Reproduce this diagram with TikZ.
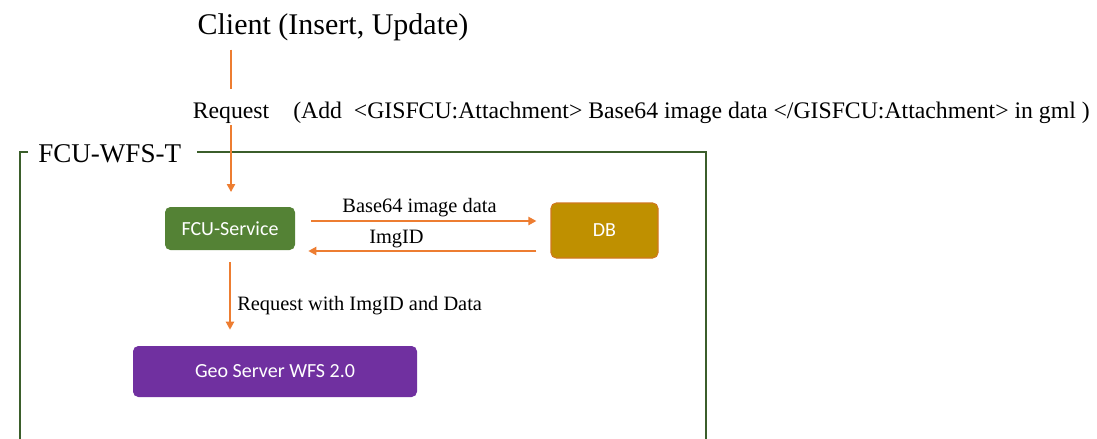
\documentclass[tikz,border=0pt]{standalone}
\usepackage{fontspec}
\setmainfont{Liberation Serif}
\newfontfamily\boxfont{Carlito}
\usepackage{xcolor}
\usetikzlibrary{arrows.meta,positioning}
\definecolor{flowc}{HTML}{ED7D31}
\definecolor{srvgreen}{HTML}{548235}
\definecolor{dbfill}{HTML}{BF9000}
\definecolor{dbedge}{HTML}{D0781E}
\definecolor{geopurple}{HTML}{7030A0}
\definecolor{framec}{HTML}{3B5E2B}

\begin{document}
\begin{tikzpicture}[x=0.75pt,y=-0.75pt,>={Triangle[length=6pt,width=6pt]}]
  \useasboundingbox (0,0) rectangle (1097,439);
  \tikzstyle{blk}=[rounded corners=4pt,inner sep=0pt,text=white,font=\boxfont\fontsize{15}{18}\selectfont]
  \tikzstyle{flow}=[->,flowc,line width=1.5pt]
  \tikzstyle{lbl}=[inner sep=0pt,font=\fontsize{15.3}{18}\selectfont]
  \tikzstyle{frame}=[framec,line width=1pt]

  \node[inner sep=0pt,anchor=base,font=\fontsize{22.5}{26}\selectfont] (client) at (333,35) {Client (Insert, Update)};
  \node[lbl,anchor=base,font=\fontsize{17.8}{21}\selectfont] (req) at (231,118) {Request};
  \node[lbl,anchor=base west,font=\fontsize{17.8}{21}\selectfont] (gml) at (293,118)
    {(Add\ \ <GISFCU:Attachment> Base64 image data </GISFCU:Attachment> in gml )};

  \node[inner sep=0pt,anchor=base west,font=\fontsize{20.3}{24}\selectfont] (sys) at (38,162) {FCU-WFS-T};
  \draw[frame] (28,152) -- (20,152) -- (20,440);
  \draw[frame] (197,152) -- (706,152) -- (706,440);

  \node[blk,fill=srvgreen,minimum width=97.5pt,minimum height=32.25pt] (fcu) at (230,228.5) {FCU-Service};
  \node[blk,fill=dbfill,draw=dbedge,line width=0.8pt,minimum width=80.25pt,minimum height=41.25pt] (db) at (604.5,230.5) {DB};
  \node[blk,fill=geopurple,minimum width=213pt,minimum height=38.25pt] (geo) at (275,371.5) {Geo Server WFS 2.0};

  \draw[flowc,line width=1.5pt,shorten <=6pt,shorten >=10pt] (req |- client.south) -- (req.north);
  \draw[flow,shorten <=1.5pt,shorten >=11pt] (req.south) -- (req.south |- fcu.north);

  \draw[flow,shorten <=12pt,shorten >=10.5pt] (fcu.east |- 0,221) -- (db.west |- 0,221);
  \node[lbl,anchor=base] (b64) at (419.5,212) {Base64 image data};
  \draw[flow,shorten <=10.5pt,shorten >=9.75pt] (db.west |- 0,251) -- (fcu.east |- 0,251);
  \node[lbl,anchor=base] (imgid) at (396.5,243) {ImgID};

  \draw[flow,shorten <=9pt,shorten >=12pt] (fcu.south) -- (fcu.south |- geo.north);
  \node[lbl,anchor=base west] (wreq) at (237,310) {Request with ImgID and Data};
\end{tikzpicture}
\end{document}
